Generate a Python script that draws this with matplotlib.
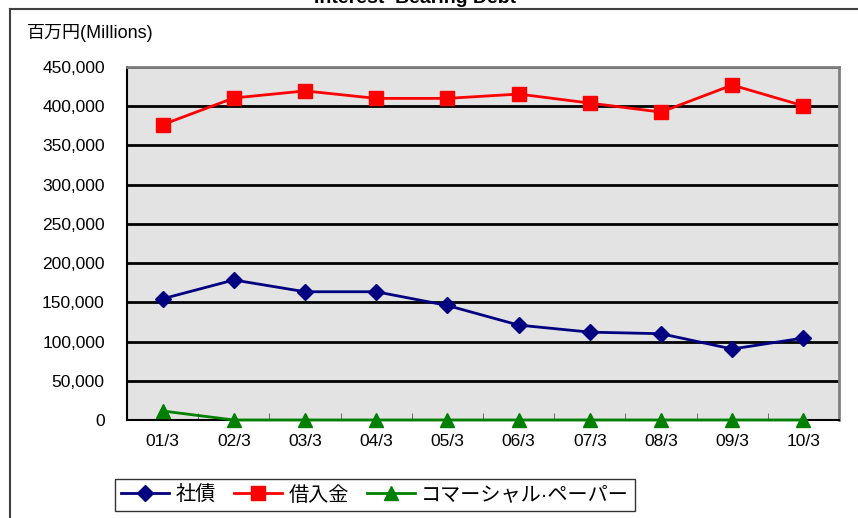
#!/usr/bin/env python3
"""
Interest Bearing Debt - line chart (社債 / 借入金 / コマーシャル・ペーパー)
"""

import matplotlib
matplotlib.use("Agg")
import matplotlib.pyplot as plt
from matplotlib.lines import Line2D
from matplotlib.ticker import FuncFormatter, MultipleLocator

plt.rcParams['font.family'] = ['Liberation Sans', 'Noto Sans CJK JP', 'DejaVu Sans']

# Data (millions of yen)
periods = ['01/3', '02/3', '03/3', '04/3', '05/3', '06/3', '07/3', '08/3', '09/3', '10/3']
bonds = [154500, 178500, 163500, 163500, 146000, 121000, 112000, 110000, 90500, 104500]
loans = [376500, 410500, 419500, 410000, 410000, 415500, 404000, 392500, 427000, 400500]
commercial_paper = [11500, 0, 0, 0, 0, 0, 0, 0, 0, 0]

series_labels = ['社債', '借入金', 'コマーシャル·ペーパー']

W, H = 858, 518
fig = plt.figure(figsize=(W / 100, H / 100), dpi=100, facecolor='white')

# Plot area in pixel coords
left, right, top, bottom = 127, 839, 67, 420
ax = fig.add_axes([left / W, 1 - bottom / H, (right - left) / W, (bottom - top) / H])
ax.set_facecolor('#e3e3e3')

x = list(range(len(periods)))

ax.plot(x, bonds, color='#000080', lw=2, marker='D', ms=8,
        label=series_labels[0], zorder=4, clip_on=False)
ax.plot(x, loans, color='#ff0000', lw=2, marker='s', ms=10,
        label=series_labels[1], zorder=4, clip_on=False)
ax.plot(x, commercial_paper, color='#008000', lw=2, marker='^', ms=10,
        label=series_labels[2], zorder=5, clip_on=False)

ax.set_xlim(-0.5, len(periods) - 0.5)
ax.set_ylim(0, 450000)
ax.yaxis.set_major_locator(MultipleLocator(50000))
ax.yaxis.set_major_formatter(FuncFormatter(lambda v, p: f"{int(v):,}"))
ax.grid(axis='y', color='black', lw=2, zorder=1)
ax.set_axisbelow(True)

# category labels and tick marks between categories
ax.set_xticks(x)
ax.set_xticklabels(periods)
ax.set_xticks([i + 0.5 for i in x[:-1]], minor=True)
ax.tick_params(axis='x', which='major', length=0, pad=10, labelsize=12.5)
ax.tick_params(axis='x', which='minor', length=5, direction='in', color='#555555')
ax.tick_params(axis='y', length=0, pad=16, labelsize=12.5)

for side in ['top', 'right']:
    ax.spines[side].set_color('#808080')
    ax.spines[side].set_linewidth(2)
for side in ['left', 'bottom']:
    ax.spines[side].set_color('black')
    ax.spines[side].set_linewidth(1.5)

# outer chart frame
fig.add_artist(Line2D([10 / W, 1], [1 - 9 / H, 1 - 9 / H], color='#404040', lw=1.5))
fig.add_artist(Line2D([10 / W, 10 / W], [0, 1 - 9 / H], color='#404040', lw=1.5))

# title (mostly cut off by the top of the image, as in the source)
fig.text(415 / W, 1 - 3 / H, 'Interest  Bearing Debt', ha='center', va='baseline',
         fontsize=14, fontweight='bold')

fig.text(27 / W, 1 - 33 / H, '百万円(Millions)', ha='left', va='center', fontsize=13)

leg = fig.legend(loc='center', bbox_to_anchor=(375 / W, 1 - 495 / H), ncol=3,
                 fontsize=14.5, frameon=True, fancybox=False, edgecolor='black',
                 handlelength=2.4, columnspacing=0.9, handletextpad=0.3,
                 borderpad=0.3)
leg.get_frame().set_linewidth(1)

fig.savefig('out.png', dpi=100, facecolor='white')
